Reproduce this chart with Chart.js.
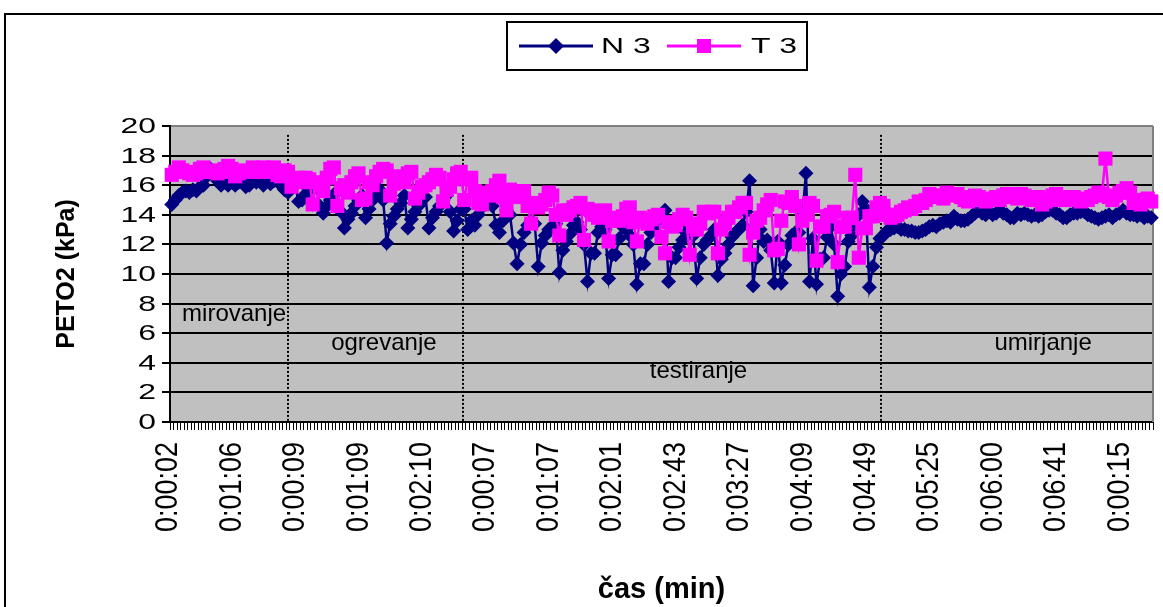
<!DOCTYPE html>
<html>
<head>
<meta charset="utf-8">
<script src="https://cdn.jsdelivr.net/npm/chart.js@4/dist/chart.umd.min.js"></script>
<style>html,body{margin:0;padding:0;background:#fff;}canvas{display:block;}</style>
</head>
<body>
<canvas id="c" width="1163" height="607"></canvas>
<script>
// ---- data ----
const n3 = [
  // mirovanje
  14.7,15.0,15.3,15.5,15.6,15.5,15.7,15.6,15.9,16.0,
  16.6,17.1,16.8,16.3,16.0,16.2,16.0,16.3,16.0,16.2,
  16.4,15.9,16.0,16.3,16.2,16.4,16.0,16.3,16.1,16.3,
  16.4,16.0,15.7,15.5,
  // ogrevanje
  16.2,16.0,14.9,15.0,15.4,15.7,16.0,15.9,14.6,14.1,
  14.6,15.0,15.3,15.6,14.2,13.1,13.7,14.1,14.6,15.0,
  15.3,13.8,14.4,15.0,15.5,15.7,15.0,12.1,13.4,13.9,
  14.4,14.8,15.3,13.1,13.7,14.2,14.6,15.0,15.2,13.1,
  13.8,14.2,14.6,15.0,15.3,14.2,12.9,13.6,14.4,
  // testiranje
  14.4,13.0,13.6,13.3,14.0,14.5,14.9,15.2,14.6,13.3,
  12.8,13.6,14.3,14.0,12.1,10.7,12.0,12.8,13.3,13.6,
  13.4,10.5,12.1,12.6,13.0,13.2,13.4,10.1,11.6,12.2,
  12.7,13.3,13.5,13.0,12.0,9.5,11.4,11.4,12.8,13.2,
  13.0,9.7,11.3,11.3,12.4,13.2,13.0,12.6,12.0,9.3,
  10.7,10.7,12.0,12.8,13.2,13.6,14.0,14.3,9.5,11.1,
  11.1,11.8,12.3,12.8,13.2,12.6,9.7,11.1,12.0,12.3,
  12.6,13.0,9.9,11.0,11.4,12.0,12.5,12.8,13.0,13.3,
  14.2,16.3,9.2,11.1,13.0,12.2,12.3,11.6,9.4,12.2,
  9.4,10.6,12.0,12.6,12.8,12.8,14.0,16.8,9.5,12.4,
  9.3,11.0,11.1,12.5,13.2,12.0,8.5,10.0,10.5,12.2,
  12.6,13.4,14.0,14.9,14.4,9.1,10.5,11.8,12.4,
  // umirjanje
  12.6,12.9,13.0,13.1,13.2,13.0,13.0,12.9,12.9,12.8,
  12.8,12.9,13.0,13.2,13.3,13.2,13.4,13.5,13.6,13.5,
  13.9,13.7,13.6,13.6,13.7,13.9,14.1,14.3,14.1,14.0,
  14.2,14.0,14.1,14.3,14.1,14.0,13.8,13.8,14.1,14.0,
  14.1,14.0,13.9,14.0,13.9,14.0,14.2,14.3,14.3,14.1,
  14.0,13.8,13.8,14.0,14.1,14.1,14.2,14.2,14.0,13.9,
  13.8,13.7,13.8,13.9,14.0,13.8,14.0,14.1,14.3,14.1,
  14.0,14.0,13.9,14.0,13.8,13.9,13.8
];
const t3 = [
  // mirovanje
  16.7,16.9,17.2,17.0,16.9,16.8,16.7,16.8,17.1,17.2,
  16.9,16.9,17.0,16.8,16.9,17.1,17.3,17.1,16.6,16.8,
  16.9,17.0,16.9,17.2,17.1,16.9,17.2,17.0,16.9,17.2,
  16.7,16.6,17.0,16.9,
  // ogrevanje
  15.9,16.3,16.5,16.2,16.5,16.4,14.7,16.2,16.0,15.6,
  16.5,17.1,17.2,14.6,15.8,16.0,15.5,16.2,16.6,16.8,
  15.0,15.1,16.2,16.0,16.6,16.9,17.1,17.0,15.3,16.1,
  16.6,16.5,16.2,16.8,16.9,15.1,15.5,15.9,16.0,16.2,
  16.4,16.7,16.5,14.9,15.7,15.9,16.4,16.8,16.9,
  // testiranje
  15.0,16.4,16.5,15.6,14.8,14.7,15.5,15.3,15.6,16.0,
  16.3,15.2,14.3,15.7,15.6,15.2,15.4,15.6,14.6,13.4,
  14.8,14.5,14.7,15.0,15.5,15.3,14.0,12.6,14.3,14.0,
  14.3,14.5,14.6,14.8,12.3,14.4,14.3,14.0,13.8,14.1,
  14.3,12.2,13.6,13.8,13.6,13.9,14.4,14.5,13.5,12.2,
  13.8,13.6,13.4,13.7,13.9,14.0,12.5,11.4,13.5,13.2,
  13.3,13.7,14.0,13.8,11.3,13.2,13.0,13.4,14.2,14.1,
  14.2,14.2,11.4,13.0,13.4,13.8,14.2,14.2,14.5,14.8,
  14.8,11.3,12.8,13.6,13.8,14.3,14.7,15.0,11.6,11.7,
  13.6,14.9,14.8,15.2,14.6,12.0,13.6,14.0,14.8,14.6,
  10.9,13.2,13.2,13.9,14.0,14.2,10.8,13.2,13.2,13.8,
  13.8,16.7,11.1,13.1,13.1,13.9,13.9,14.5,14.8,
  // umirjanje
  14.6,14.0,13.8,13.9,14.0,14.2,14.3,14.5,14.4,14.6,
  14.9,14.8,15.0,15.4,15.2,15.3,15.3,15.1,15.5,15.4,
  15.3,15.4,15.2,15.0,14.9,15.0,15.3,15.2,15.0,14.9,
  15.0,15.1,15.2,15.0,15.3,15.4,15.2,15.3,15.1,15.4,
  15.3,15.2,15.0,15.1,15.2,14.7,14.9,15.0,15.3,15.4,
  15.1,15.0,15.1,15.2,15.2,15.0,14.9,15.1,15.0,15.2,
  15.3,15.5,15.4,17.8,15.2,15.0,15.3,15.5,15.6,15.8,
  15.5,14.8,14.9,14.7,15.0,15.1,14.9
];
const tickLabels = ['0:00:02','0:01:06','0:00:09','0:01:09','0:02:10','0:00:07','0:01:07','0:02:01',
                    '0:02:43','0:03:27','0:04:09','0:04:49','0:05:25','0:06:00','0:06:41','0:00:15'];
const TICK_EVERY = 18;
const seriesNames = ['N 3', 'T 3'];
const phaseNames = ['mirovanje', 'ogrevanje', 'testiranje', 'umirjanje'];
const phaseLabelIndex = [17.7, 60.2, 149.5, 247.3];   // category position of each phase label
const phaseLabelValue = [7.3, 5.3, 3.4, 5.3];         // kPa level of each phase label
const phaseBreaks = [33.1, 82.6, 201.3];              // category position of dotted separators

const categories = n3.map((_, i) => (i % TICK_EVERY === 0 && tickLabels[i / TICK_EVERY]) || '');

// ---- drawing ----
const FONT = '"Liberation Sans", Arial, Helvetica, sans-serif';
const NAVY = '#000080', MAGENTA = '#FF00FF';

function stretchText(ctx, text, x, y, size, sx, align, weight) {
  ctx.save();
  ctx.translate(x, y);
  ctx.scale(sx, 1);
  ctx.font = (weight || 'normal') + ' ' + size + 'px ' + FONT;
  ctx.textAlign = align;
  ctx.textBaseline = 'middle';
  ctx.fillStyle = '#000';
  ctx.fillText(text, 0, 0);
  ctx.restore();
}

const decor = {
  id: 'decor',
  beforeDraw(chart) {
    const {ctx, chartArea: a} = chart;
    ctx.save();
    ctx.fillStyle = '#fff';
    ctx.fillRect(0, 0, chart.width, chart.height);
    ctx.fillStyle = '#C0C0C0';
    ctx.fillRect(a.left, a.top, a.right - a.left, a.bottom - a.top);
    ctx.restore();
  },
  beforeDatasetsDraw(chart) {
    const {ctx, chartArea: a, scales: {x, y}} = chart;
    ctx.save();
    ctx.strokeStyle = '#808080';
    ctx.lineWidth = 2;
    ctx.beginPath();
    ctx.moveTo(a.right, a.top); ctx.lineTo(a.right, a.bottom);
    ctx.stroke();
    const step = x.getPixelForValue(1) - x.getPixelForValue(0);
    ctx.strokeStyle = '#000';
    ctx.lineWidth = 2;
    ctx.setLineDash([2, 2]);
    phaseBreaks.forEach(b => {
      const px = Math.round(x.getPixelForValue(0) + b * step);
      ctx.beginPath();
      ctx.moveTo(px, y.getPixelForValue(19.4));
      ctx.lineTo(px, a.bottom);
      ctx.stroke();
    });
    ctx.setLineDash([]);
    phaseNames.forEach((name, k) => {
      const px = x.getPixelForValue(0) + phaseLabelIndex[k] * step;
      stretchText(ctx, name, px, y.getPixelForValue(phaseLabelValue[k]), 24, 1, 'center');
    });
    ctx.restore();
  },
  afterDraw(chart) {
    const {ctx, scales: {x, y}} = chart;
    ctx.save();
    // y tick labels
    y.ticks.forEach(t => {
      stretchText(ctx, String(t.value), 156, y.getPixelForValue(t.value) + 1, 22, 1.45, 'right');
    });
    // x tick labels (rotated)
    categories.forEach((lab, i) => {
      if (!lab) return;
      ctx.save();
      ctx.translate(x.getPixelForValue(i) - 3, 442);
      ctx.rotate(-Math.PI / 2);
      ctx.scale(1, 1.15);
      ctx.font = '27px ' + FONT;
      ctx.textAlign = 'right';
      ctx.textBaseline = 'middle';
      ctx.fillStyle = '#000';
      ctx.fillText(lab, 0, 0);
      ctx.restore();
    });
    // legend
    ctx.lineWidth = 2;
    ctx.strokeStyle = '#000';
    ctx.strokeRect(507, 22, 300, 48);
    const ly = 46;
    ctx.lineWidth = 3;
    ctx.strokeStyle = NAVY;
    ctx.beginPath(); ctx.moveTo(519, ly); ctx.lineTo(593, ly); ctx.stroke();
    ctx.fillStyle = NAVY;
    ctx.beginPath();
    ctx.moveTo(556, ly - 8); ctx.lineTo(564, ly); ctx.lineTo(556, ly + 8); ctx.lineTo(548, ly);
    ctx.closePath(); ctx.fill();
    stretchText(ctx, seriesNames[0], 601, ly + 1, 22, 1.45, 'left');
    ctx.strokeStyle = MAGENTA;
    ctx.beginPath(); ctx.moveTo(667, ly); ctx.lineTo(741, ly); ctx.stroke();
    ctx.fillStyle = MAGENTA;
    ctx.fillRect(697, ly - 7, 14, 14);
    stretchText(ctx, seriesNames[1], 751, ly + 1, 22, 1.45, 'left');
    // outer frame
    ctx.lineWidth = 2;
    ctx.strokeStyle = '#000';
    ctx.strokeRect(5, 14, 1400, 800);
    ctx.restore();
  }
};

new Chart(document.getElementById('c'), {
  type: 'line',
  data: {
    labels: categories,
    datasets: [
      {
        label: seriesNames[0], data: n3, order: 1,
        borderColor: NAVY, backgroundColor: NAVY, borderWidth: 2.5,
        pointStyle: 'rectRot', pointRadius: 7.5, pointBorderWidth: 0,
        pointBackgroundColor: NAVY, tension: 0, clip: false
      },
      {
        label: seriesNames[1], data: t3, order: 0,
        borderColor: MAGENTA, backgroundColor: MAGENTA, borderWidth: 2.5,
        pointStyle: 'rect', pointRadius: 10, pointBorderWidth: 0,
        pointBackgroundColor: MAGENTA, tension: 0, clip: false
      }
    ]
  },
  options: {
    responsive: false,
    animation: false,
    devicePixelRatio: 1,
    layout: {padding: {left: 0, right: 7, top: 126, bottom: 0}},
    plugins: {legend: {display: false}, tooltip: {enabled: false}, title: {display: false}},
    scales: {
      x: {
        type: 'category',
        offset: true,
        ticks: {display: false, autoSkip: false},
        grid: {display: true, drawOnChartArea: false, drawTicks: true, tickLength: 8,
               color: '#000', tickColor: '#000', lineWidth: 1, offset: true},
        border: {display: true, color: '#000', width: 2},
        title: {display: true, text: 'čas (min)', color: '#000',
                font: {family: FONT, size: 29, weight: 'bold'}, padding: {top: 25, bottom: 0}},
        afterFit(s) { s.height = 185; }
      },
      y: {
        min: 0, max: 20,
        ticks: {display: false, stepSize: 2},
        grid: {display: true, drawTicks: true, tickLength: 8,
               color: c => (c.tick && c.tick.value === 20 ? '#808080' : '#000'),
               tickColor: '#000', lineWidth: 2},
        border: {display: true, color: '#000', width: 2},
        title: {display: true, text: 'PETO2 (kPa)', color: '#000',
                font: {family: FONT, size: 25, weight: 'bold'}, padding: {top: 52, bottom: 0}},
        afterFit(s) { s.width = 170; }
      }
    }
  },
  plugins: [decor]
});
</script>
</body>
</html>
